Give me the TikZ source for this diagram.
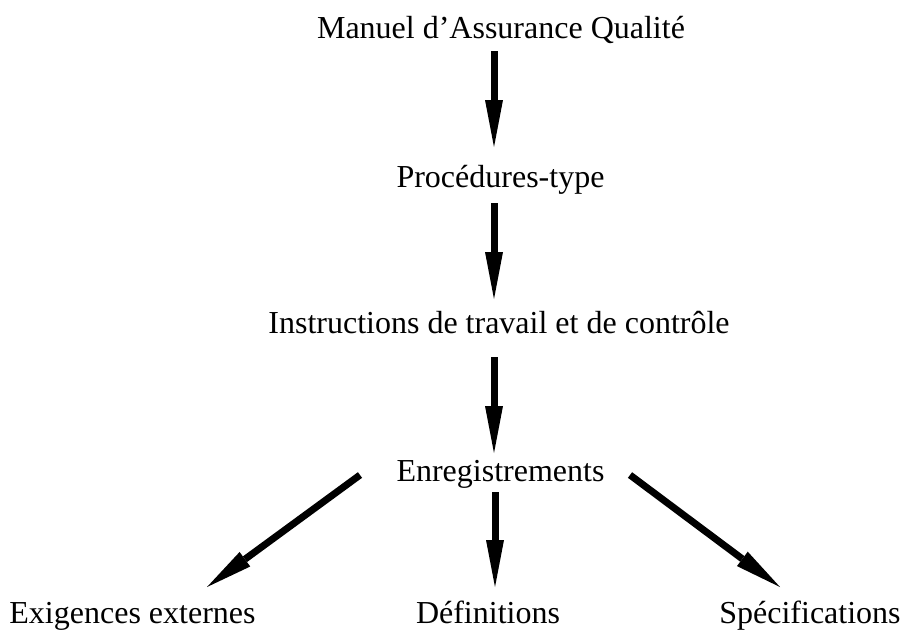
\documentclass[tikz,border=0pt]{standalone}
\usepackage{fontspec}
\setmainfont{Liberation Serif}
\usetikzlibrary{arrows.meta}
\begin{document}
\begin{tikzpicture}[x=1pt,y=1pt,
  lbl/.style={anchor=base,inner sep=0pt,font=\fontsize{32}{38}\selectfont},
  bigarrow/.style={line width=7pt,-{Triangle[length=47pt,width=18pt,line width=0pt]}}]
\useasboundingbox (0,0) rectangle (902,-633);
\node[lbl] (m) at (501,-38) {Manuel d’Assurance Qualité};
\node[lbl] (p) at (500.5,-187) {Procédures-type};
\node[lbl] (i) at (499,-333) {Instructions de travail et de contrôle};
\node[lbl] (e) at (500.5,-481) {Enregistrements};
\node[lbl] (ex) at (132.5,-623) {Exigences externes};
\node[lbl] (d) at (488,-623) {Définitions};
\node[lbl] (s) at (810,-623) {Spécifications};
\draw[bigarrow] ([shift={(-7,-13)}]m.base) -- ([shift={(-6.5,40)}]p.base);
\draw[bigarrow] ([shift={(-6.5,-16)}]p.base) -- ([shift={(-5,34)}]i.base);
\draw[bigarrow] ([shift={(-5,-24)}]i.base) -- ([shift={(-6.5,28)}]e.base);
\draw[bigarrow] ([shift={(-5.5,-11)}]e.base) -- ([shift={(7,36)}]d.base);
\draw[bigarrow] ([shift={(-140.5,6)}]e.base) -- ([shift={(74.5,36)}]ex.base);
\draw[bigarrow] ([shift={(129.5,6)}]e.base) -- ([shift={(-30,36)}]s.base);
\end{tikzpicture}
\end{document}
